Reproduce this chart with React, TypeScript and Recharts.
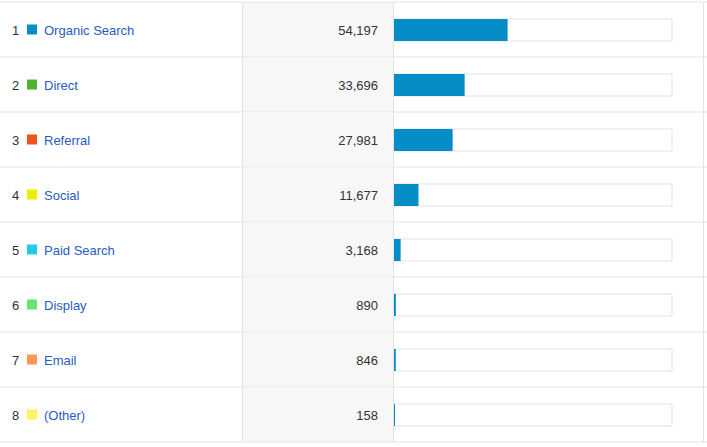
import React from 'react';
import { BarChart, Bar, XAxis, YAxis } from 'recharts';

const channels = ['Organic Search', 'Direct', 'Referral', 'Social', 'Paid Search', 'Display', 'Email', '(Other)'];
const sessions = [54197, 33696, 27981, 11677, 3168, 890, 846, 158];
const swatches = ['#058dc7', '#50b432', '#ed561b', '#edef00', '#24cbe5', '#64e572', '#ff9655', '#fff263'];

const total = sessions.reduce((a, b) => a + b, 0);
const data = channels.map((name, i) => ({ name, value: sessions[i], color: swatches[i], rank: i + 1 }));

const ROW = 55;
const FONT = '"Liberation Sans", Arial, sans-serif';
const LINE = '#e3e3e3';

const RowTick = (props: any) => {
  const { y, payload } = props;
  const i = payload.index;
  const d = data[i];
  const top = y - ROW / 2;
  const bottom = y + ROW / 2;
  return (
    <g>
      <rect x={242} y={top} width={151} height={ROW} fill="#f7f7f7" />
      {i === 0 && <line x1={0} x2={707} y1={top} y2={top} stroke={LINE} />}
      <line x1={0} x2={707} y1={bottom} y2={bottom} stroke={LINE} />
      <line x1={242.5} x2={242.5} y1={top} y2={bottom} stroke={LINE} />
      <line x1={393.5} x2={393.5} y1={top} y2={bottom} stroke={LINE} />
      <line x1={703.5} x2={703.5} y1={top} y2={bottom} stroke={LINE} />
      <text x={12} y={y} dy={5.5} fontSize={13} fontFamily={FONT} fill="#333">{d.rank}</text>
      <rect x={27} y={y - 5} width={10} height={10} fill={d.color} />
      <text x={44} y={y} dy={5.5} fontSize={13} fontFamily={FONT} fill="#2a5cbf">{d.name}</text>
      <text x={378} y={y} dy={5.5} fontSize={13} fontFamily={FONT} fill="#333" textAnchor="end">
        {d.value.toLocaleString('en-US')}
      </text>
    </g>
  );
};

export default function App() {
  return (
    <div style={{ position: 'absolute', left: 0, top: 0, width: 707, height: 447, background: '#fff' }}>
      <BarChart
        width={707}
        height={447}
        data={data}
        layout="vertical"
        margin={{ top: 2, right: 35, bottom: 5, left: 0 }}
        barCategoryGap={0}
      >
        <XAxis type="number" domain={[0, total]} hide />
        <YAxis
          type="category"
          dataKey="name"
          width={394}
          axisLine={false}
          tickLine={false}
          tick={<RowTick />}
          interval={0}
        />
        <Bar
          dataKey="value"
          fill="#058dc7"
          barSize={22}
          minPointSize={1}
          isAnimationActive={false}
          background={{ fill: '#fff', stroke: LINE, strokeWidth: 1 }}
        />
      </BarChart>
    </div>
  );
}
